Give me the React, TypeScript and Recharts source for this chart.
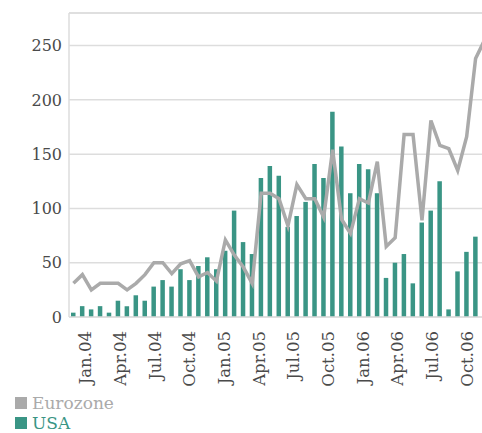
import React from 'react';
import {
  ComposedChart,
  Bar,
  Line,
  XAxis,
  YAxis,
  CartesianGrid,
  ReferenceLine,
  Legend,
} from 'recharts';

// one entry per period
const usa = [
  4, 10, 7, 10, 4, 15, 10, 20, 15, 28, 34, 28, 44, 34, 47, 55, 44, 61, 98, 69,
  58, 128, 139, 130, 83, 93, 106, 141, 128, 189, 157, 114, 141, 136, 114, 36,
  50, 58, 31, 87, 98, 125, 7, 42, 60, 74, null,
];
const eurozone = [
  31, 39, 25, 31, 31, 31, 25, 31, 39, 50, 50, 40, 49, 52, 37, 41, 33, 71, 57,
  46, 31, 114, 114, 109, 84, 122, 109, 109, 92, 154, 90, 77, 109, 105, 143, 65,
  73, 168, 168, 89, 181, 158, 155, 135, 166, 238, 255,
];
const periods = usa.map((_, i) => i);

const tickLabels = [
  'Jan.04', 'Apr.04', 'Jul.04', 'Oct.04', 'Jan.05', 'Apr.05',
  'Jul.05', 'Oct.05', 'Jan.06', 'Apr.06', 'Jul.06', 'Oct.06',
];
// where each quarter label falls, in period units
const tickAt = [0.7, 4.58, 8.46, 12.34, 16.22, 20.1, 23.98, 27.86, 31.74, 35.62, 39.5, 43.38];
const yTicks = [0, 50, 100, 150, 200, 250];

const data = periods.map((i) => ({ i, usa: usa[i], eurozone: eurozone[i] }));

const GREY = '#aaaaaa';
const TEAL = '#3a9585';
const FONT = '"DejaVu Serif", serif';

function LegendBox() {
  const items = [
    { name: 'Eurozone', color: GREY },
    { name: 'USA', color: TEAL },
  ];
  return (
    <div style={{ height: 40, paddingLeft: 15, fontFamily: FONT, fontSize: 17 }}>
      {items.map((it) => (
        <div key={it.name} style={{ height: 20, lineHeight: '20px', color: it.color, display: 'flex', alignItems: 'center' }}>
          <span style={{ width: 12, height: 12, background: it.color, marginRight: 5, display: 'inline-block' }} />
          {it.name}
        </div>
      ))}
    </div>
  );
}

export default function App() {
  return (
    <div style={{ position: 'absolute', left: 0, top: 0, width: 482, height: 433, overflow: 'hidden', background: '#fff', fontFamily: FONT }}>
      <ComposedChart width={489} height={433} data={data} margin={{ top: 13, right: 0, bottom: 0, left: 0 }}>
        <CartesianGrid vertical={false} stroke="#dddddd" strokeWidth={1.5} />
        <ReferenceLine y={280} stroke="#dddddd" strokeWidth={1.5} />
        <XAxis
          dataKey="i"
          type="number"
          domain={[-0.5, 46.5]}
          ticks={tickAt}
          tickFormatter={(v: number) => tickLabels[tickAt.indexOf(v)] ?? ''}
          interval={0}
          height={76}
          angle={-90}
          textAnchor="end"
          tickLine={false}
          tickSize={6}
          tickMargin={8}
          axisLine={{ stroke: '#dddddd', strokeWidth: 1.5 }}
          tick={{ fill: '#4a4a4a', fontSize: 16.5, fontFamily: FONT }}
        />
        <YAxis
          domain={[0, 280]}
          ticks={yTicks}
          width={69}
          tickLine={false}
          tickSize={0}
          tickMargin={7}
          axisLine={{ stroke: '#dddddd', strokeWidth: 1.5 }}
          tick={{ fill: '#4a4a4a', fontSize: 16, fontFamily: FONT }}
        />
        <Bar dataKey="usa" name="USA" fill={TEAL} barSize={4.5} isAnimationActive={false} />
        <Line
          dataKey="eurozone"
          name="Eurozone"
          type="linear"
          stroke={GREY}
          strokeWidth={3.5}
          dot={false}
          isAnimationActive={false}
        />
        <Legend verticalAlign="bottom" align="left" content={() => <LegendBox />} />
      </ComposedChart>
    </div>
  );
}
